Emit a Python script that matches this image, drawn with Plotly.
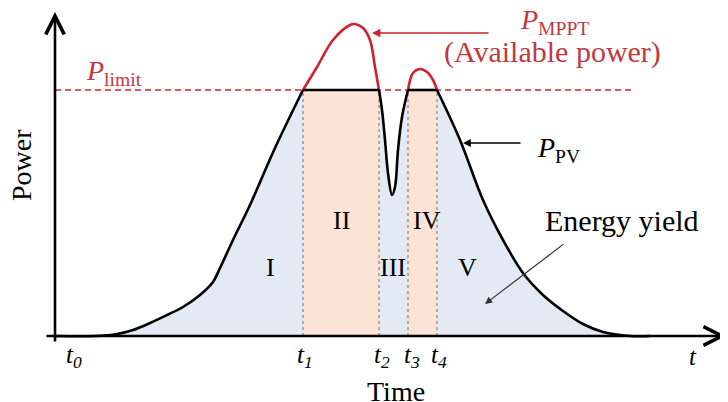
import plotly.graph_objects as go

# PV output power (clipped at P_limit)
t_pv = [0, 40, 62, 78, 95, 112, 128, 145, 158, 165, 178, 195, 220, 248, 324,
        327, 330, 333, 337, 340, 343, 347, 353, 382,
        405, 428, 448, 468, 488, 508, 528, 548, 575, 595]
p_pv = [0, 0, 2, 6, 13, 21, 29, 41, 54, 68, 96, 131, 188, 246, 246,
        226, 196, 163, 141, 149, 186, 219, 246, 246,
        196, 136, 96, 63, 41, 25, 12, 4, 0, 0]

# available (MPPT) power above the limit
t_mppt1 = [248, 262, 278, 295, 300, 308, 315, 320, 324]
p_mppt1 = [246, 269, 296, 311, 312, 308, 296, 269, 246]
t_mppt2 = [353, 358, 365, 372, 378, 382]
p_mppt2 = [246, 263, 267, 264, 256, 246]

p_limit = 246
t_marks = [248, 324, 353, 382]          # t1..t4
t_names = ["t<sub>0</sub>", "t<sub>1</sub>", "t<sub>2</sub>", "t<sub>3</sub>", "t<sub>4</sub>", "t"]
regions = ["I", "II", "III", "IV", "V"]

serif = "Liberation Serif"
red_line = "#d0222a"
red_text = "#c0393f"
blue_fill = "#e3eaf4"
peach_fill = "#fbe4d5"

# pieces of the PV curve: smooth ramps/dip, straight clipped plateaus
i1 = t_pv.index(t_marks[0])
i2 = t_pv.index(t_marks[1])
i3 = t_pv.index(t_marks[2])
i4 = t_pv.index(t_marks[3])
pieces = [(0, i1, "spline"), (i1, i2, "linear"), (i2, i3, "spline"),
          (i3, i4, "linear"), (i4, len(t_pv) - 1, "spline")]

fig = go.Figure()

# energy yield area
for a, b, shp in pieces:
    fig.add_trace(go.Scatter(x=t_pv[a:b + 1], y=p_pv[a:b + 1], fill="tozeroy",
                             fillcolor=blue_fill, mode="lines",
                             line=dict(width=0, shape=shp), hoverinfo="skip"))

# curtailed intervals II and IV
for a, b in [(t_marks[0], t_marks[1]), (t_marks[2], t_marks[3])]:
    fig.add_trace(go.Scatter(x=[a, a, b, b, a], y=[0, p_limit, p_limit, 0, 0],
                             fill="toself", fillcolor=peach_fill,
                             line=dict(width=0), mode="lines", hoverinfo="skip"))

# dotted boundaries
vx, vy = [], []
for t in t_marks:
    vx += [t, t, None]
    vy += [0, p_limit, None]
fig.add_trace(go.Scatter(x=vx, y=vy, mode="lines",
                         line=dict(color="#8a8a8a", width=1.3, dash="dot")))

# P_limit
fig.add_trace(go.Scatter(x=[0, 578], y=[p_limit, p_limit], mode="lines",
                         line=dict(color=red_line, width=1.4, dash="6px,4px")))

# MPPT power
fig.add_trace(go.Scatter(x=t_mppt1 + [None] + t_mppt2, y=p_mppt1 + [None] + p_mppt2,
                         mode="lines", line=dict(color=red_line, width=2.6, shape="spline")))

# PV power
for a, b, shp in pieces:
    fig.add_trace(go.Scatter(x=t_pv[a:b + 1], y=p_pv[a:b + 1], mode="lines",
                             line=dict(color="black", width=2.6, shape=shp)))

ann = []

def arrow(x, y, ax, ay, color, width, head, size):
    ann.append(dict(x=x, y=y, ax=ax, ay=ay, xref="x", yref="y", axref="x", ayref="y",
                    text="", showarrow=True, arrowcolor=color, arrowwidth=width,
                    arrowhead=head, arrowsize=size))

def label(x, y, text, size, color="black", **kw):
    ann.append(dict(x=x, y=y, xref="x", yref="y", text=text, showarrow=False,
                    font=dict(family=serif, size=size, color=color), **kw))

# axes
arrow(0, 324, 0, -7, "black", 2.6, 5, 1.4)
arrow(671, 0, -10, 0, "black", 2.6, 5, 1.4)

# pointers
arrow(317, 303, 435, 303, red_line, 1.4, 2, 1.2)
arrow(408, 193, 467, 193, "black", 1.3, 2, 1.2)
arrow(430, 32, 510, 93, "#333333", 1.2, 2, 1.2)

# axis titles
label(-34, 171, "Power", 28, textangle=-90)
label(341, -55, "Time", 28)

# time marks
tick_x = [19, 250, 327, 357, 384, 638]
for x, s in zip(tick_x, t_names):
    label(x, -20, "<i>" + s + "</i>", 25)

# region numerals
reg_x = [215, 286, 338, 372, 412]
reg_y = [69, 116, 69, 116, 69]
for x, y, s in zip(reg_x, reg_y, regions):
    label(x, y, s, 26)

label(59, 264, "<i>P</i><sub>limit</sub>", 28, red_text)
label(463, 315, "<i>P</i><sub>MPPT</sub>", 28, red_text, xanchor="left")
label(497, 284, "(Available power)", 30, red_text)
label(480, 187, "<i>P</i><sub>PV</sub>", 28, xanchor="left")
label(567, 116, "Energy yield", 30)

# the page body adds an 8px margin, so the figure is 8px smaller than the window
fig.update_layout(
    annotations=ann,
    width=720, height=394,
    margin=dict(l=0, r=0, t=0, b=0),
    plot_bgcolor="white", paper_bgcolor="white",
    showlegend=False,
    xaxis=dict(range=[-47, 673], visible=False, fixedrange=True),
    yaxis=dict(range=[-66, 328], visible=False, fixedrange=True),
)

fig.write_html("out.html")
